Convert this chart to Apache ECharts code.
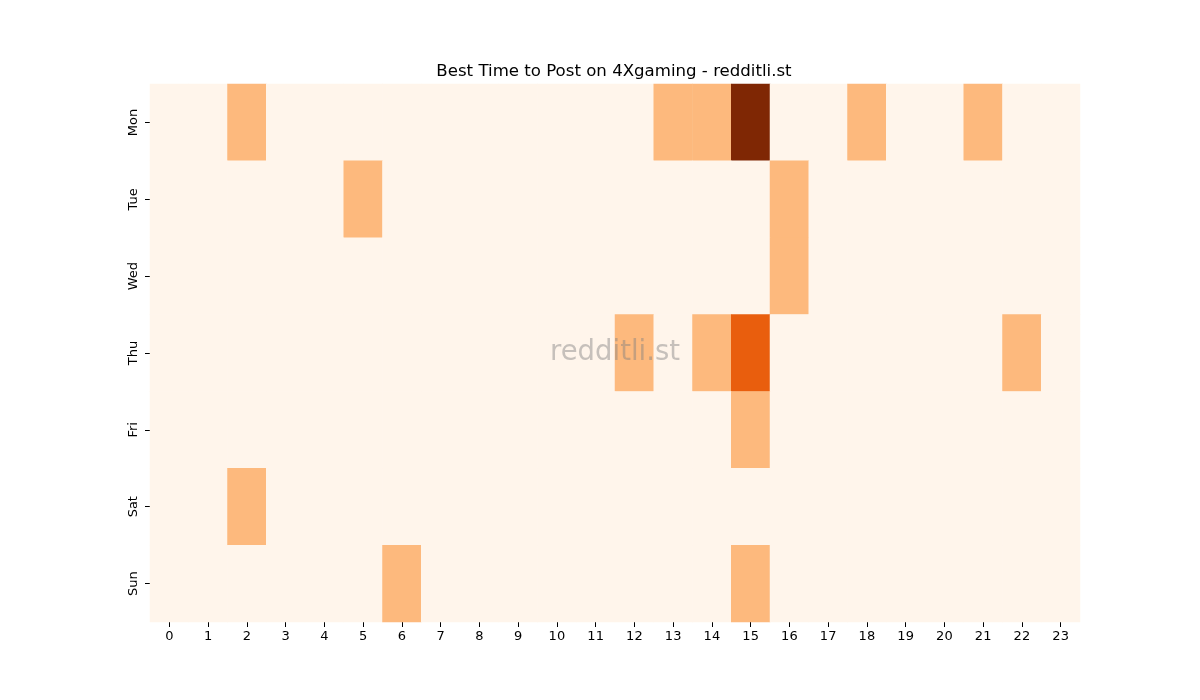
<!DOCTYPE html>
<html>
<head>
<meta charset="utf-8">
<script src="https://cdn.jsdelivr.net/npm/echarts@6/dist/echarts.min.js"></script>
<style>
  html, body { margin: 0; padding: 0; background: #fff; }
  #chart { width: 1200px; height: 700px; }
</style>
</head>
<body>
<div id="chart"></div>
<script>
const hours = ['0','1','2','3','4','5','6','7','8','9','10','11','12','13','14','15','16','17','18','19','20','21','22','23'];
const days = ['Mon', 'Tue', 'Wed', 'Thu', 'Fri', 'Sat', 'Sun'];

// posts per hour, one row per day
const mon = [0,0,1,0,0,0,0,0,0,0,0,0,0,1,1,3,0,0,1,0,0,1,0,0];
const tue = [0,0,0,0,0,1,0,0,0,0,0,0,0,0,0,0,1,0,0,0,0,0,0,0];
const wed = [0,0,0,0,0,0,0,0,0,0,0,0,0,0,0,0,1,0,0,0,0,0,0,0];
const thu = [0,0,0,0,0,0,0,0,0,0,0,0,1,0,1,2,0,0,0,0,0,0,1,0];
const fri = [0,0,0,0,0,0,0,0,0,0,0,0,0,0,0,1,0,0,0,0,0,0,0,0];
const sat = [0,0,1,0,0,0,0,0,0,0,0,0,0,0,0,0,0,0,0,0,0,0,0,0];
const sun = [0,0,0,0,0,0,1,0,0,0,0,0,0,0,0,1,0,0,0,0,0,0,0,0];

const rows = [mon, tue, wed, thu, fri, sat, sun];
const cells = [];
rows.forEach((row, d) => {
  row.forEach((v, h) => cells.push([h, d, v]));
});

const chart = echarts.init(document.getElementById('chart'));
const font = 'DejaVu Sans';

chart.setOption({
  animation: false,
  textStyle: { fontFamily: font },
  title: {
    text: 'Best Time to Post on 4Xgaming - redditli.st',
    left: 609,
    textAlign: 'center',
    top: 58,
    textStyle: { fontFamily: font, fontSize: 16.6, fontWeight: 'normal', color: '#000' }
  },
  grid: { left: 150, right: 120, top: 84, bottom: 78 },
  xAxis: {
    type: 'category',
    data: hours,
    axisLine: { show: false },
    axisTick: { show: true, alignWithLabel: true, length: 5, lineStyle: { color: '#000' } },
    axisLabel: { color: '#000', fontSize: 13, margin: 8, interval: 0 },
    splitLine: { show: false }
  },
  yAxis: {
    type: 'category',
    data: days,
    inverse: true,
    axisLine: { show: false },
    axisTick: { show: true, alignWithLabel: true, length: 5, lineStyle: { color: '#000' } },
    axisLabel: { color: '#000', fontSize: 13, rotate: 90, margin: 10 },
    splitLine: { show: false }
  },
  visualMap: {
    show: false,
    type: 'piecewise',
    pieces: [
      { value: 0, color: '#fff5eb' },
      { value: 1, color: '#fdb97d' },
      { value: 2, color: '#e95e0d' },
      { value: 3, color: '#7f2704' }
    ]
  },
  series: [{
    type: 'heatmap',
    data: cells,
    itemStyle: { borderWidth: 0 },
    emphasis: { disabled: true }
  }],
  graphic: [{
    type: 'text',
    x: 615,
    y: 353,
    z: 100,
    style: {
      text: 'redditli.st',
      font: '27.5px "DejaVu Sans"',
      fill: 'rgba(128,128,128,0.45)',
      align: 'center',
      verticalAlign: 'middle'
    }
  }]
});
</script>
</body>
</html>
